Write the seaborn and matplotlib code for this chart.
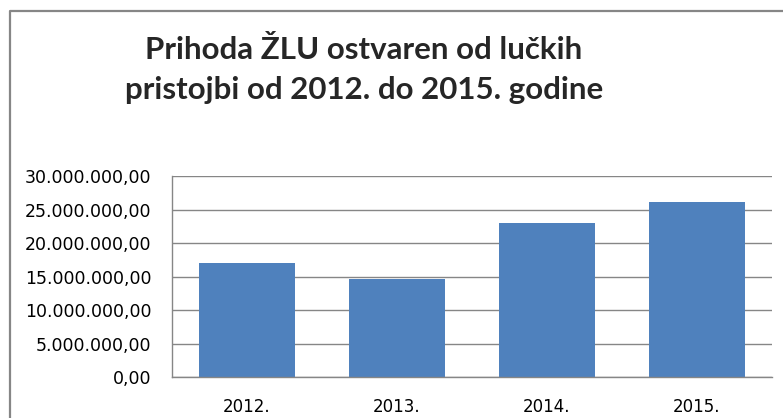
import pandas as pd
import matplotlib.pyplot as plt
import seaborn as sns
from matplotlib.lines import Line2D
from matplotlib.ticker import FuncFormatter, MultipleLocator

godine = ['2012.', '2013.', '2014.', '2015.']
prihod = [17030000, 14650000, 23000000, 26130000]

naslov = 'Prihoda ŽLU ostvaren od lučkih\npristojbi od 2012. do 2015. godine'

sns.set_style('white')
plt.rcParams['font.family'] = ['DejaVu Sans']

data = pd.DataFrame({'godina': godine, 'prihod': prihod})

fig = plt.figure(figsize=(7.83, 4.18), dpi=100)
ax = fig.add_axes([172 / 783, 1 - 377.3 / 418, (771.7 - 172) / 783, (377.3 - 176) / 418])

sns.barplot(data=data, x='godina', y='prihod', color='#4F81BD', saturation=1,
            width=0.64, linewidth=0, ax=ax)

def hr_format(v, pos):
    s = f'{v:,.2f}'
    return s.replace(',', 'X').replace('.', ',').replace('X', '.')

ax.set_ylim(0, 30000000)
ax.yaxis.set_major_locator(MultipleLocator(5000000))
ax.yaxis.set_major_formatter(FuncFormatter(hr_format))
ax.set_axisbelow(True)
ax.yaxis.grid(True, color='#868686', linewidth=1)
ax.set_xlabel('')
ax.set_ylabel('')
ax.tick_params(axis='y', length=0, pad=15, labelsize=12.5, labelcolor='black')
ax.tick_params(axis='x', length=0, pad=15, labelsize=12, labelcolor='black')

for side in ['top', 'right']:
    ax.spines[side].set_visible(False)
for side in ['left', 'bottom']:
    ax.spines[side].set_color('#868686')
    ax.spines[side].set_linewidth(1)

# okvir grafikona (odrezan desno i dolje)
fx = 9.5 / 783
fy = 1 - 11 / 418
fig.add_artist(Line2D([fx, fx, 1.0], [0.0, fy, fy], color='#868686', lw=1.6,
                      solid_capstyle='butt'))

fig.text(364 / 783, 1 - 70 / 418, naslov, ha='center', va='center',
         fontsize=22.5, fontweight='bold', family=['Lato', 'DejaVu Sans'],
         linespacing=1.55)

fig.savefig('out.png', dpi=100)
